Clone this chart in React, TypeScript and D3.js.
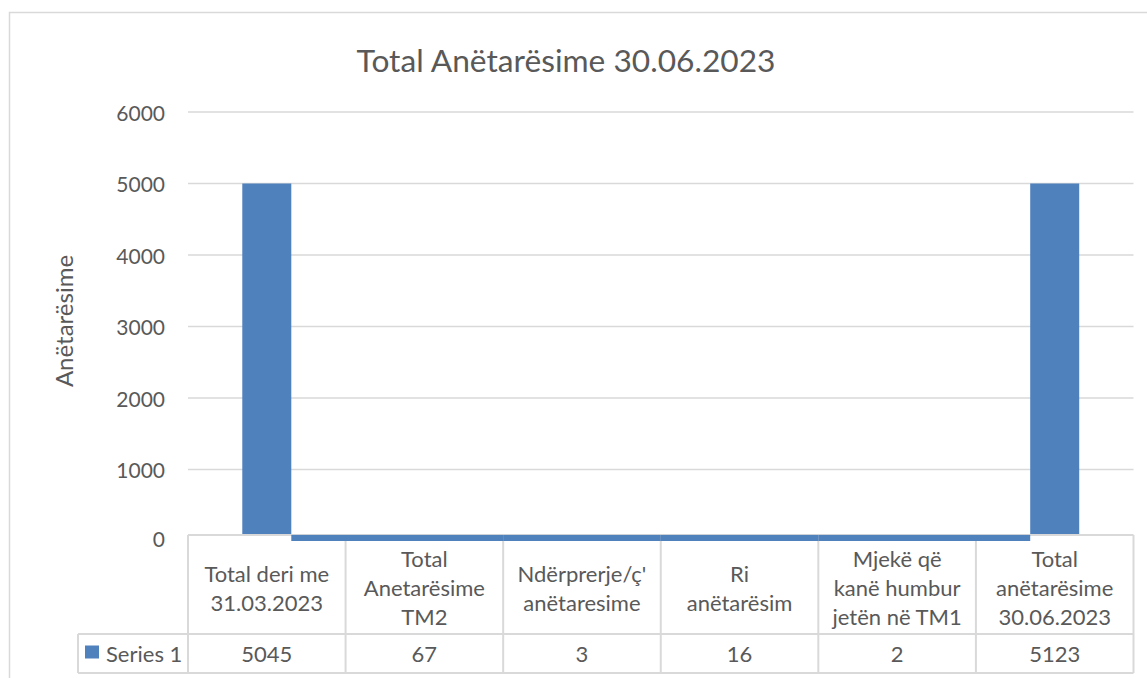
import React from "react";
import * as d3 from "d3";

const title = "Total Anëtarësime 30.06.2023";
const yAxisTitle = "Anëtarësime";
const seriesName = "Series 1";
const categoryLines: string[][] = [
  ["Total deri me", "31.03.2023"],
  ["Total", "Anetarësime", "TM2"],
  ["Ndërprerje/ç'", "anëtaresime"],
  ["Ri", "anëtarësim"],
  ["Mjekë që", "kanë humbur", "jetën në TM1"],
  ["Total", "anëtarësime", "30.06.2023"],
];
const categories = categoryLines.map((l) => l.join(" "));
// values shown in the data table
const tableValues = [5045, 67, 3, 16, 2, 5123];
// bar heights as they are drawn in the picture
const plottedValues = [5000, 85, 85, 85, 85, 5000];
const yTicks = [0, 1000, 2000, 3000, 4000, 5000, 6000];

const W = 1147;
const H = 678;
const FONT = "Lato, 'Open Sans', sans-serif";
const TEXT = "#595959";
const GRID = "#D9D9D9";
const BAR = "#4F81BD";

export default function App() {
  const plotLeft = 188;
  const plotRight = 1133.5;
  const y = d3.scaleLinear().domain([0, 6000]).range([541, 112]);
  const x = d3.scaleBand<string>().domain(categories).range([plotLeft, plotRight]).padding(0);
  const bw = x.bandwidth();
  const barW = bw * 0.311;
  const tableTop = 535;
  const headerBottom = 634;
  const rowBottom = 673;
  const legendLeft = 78;
  const n = categories.length;

  const barRect = (i: number) => {
    const c = x(categories[i])! + bw / 2;
    const isEdge = i === 0 || i === n - 1;
    if (isEdge) {
      return { x: c - barW / 2, y: y(plottedValues[i]), w: barW, h: tableTop - y(plottedValues[i]) };
    }
    let x0 = x(categories[i])!;
    let x1 = x0 + bw;
    if (i === 1) x0 = x(categories[0])! + bw / 2 + barW / 2;
    if (i === n - 2) x1 = x(categories[n - 1])! + bw / 2 - barW / 2;
    return { x: x0, y: y(plottedValues[i]), w: x1 - x0, h: y(0) - y(plottedValues[i]) };
  };

  return (
    <svg
      width={W}
      height={H}
      style={{ position: "absolute", left: 0, top: 0, background: "#fff" }}
      fontFamily={FONT}
    >
      <rect x={0} y={0} width={W} height={H} fill="#fff" />
      <rect x={9.5} y={12.5} width={W + 20} height={H + 20} fill="none" stroke={GRID} strokeWidth={1.5} />
      <text x={566} y={60} textAnchor="middle" dominantBaseline="central" fontSize={31.7} fill={TEXT}>
        {title}
      </text>
      {/* gridlines */}
      {yTicks.filter((t) => t > 0).map((t) => (
        <line key={t} x1={plotLeft} x2={plotRight} y1={y(t)} y2={y(t)} stroke={GRID} strokeWidth={1.5} />
      ))}
      {yTicks.map((t) => (
        <text key={"l" + t} x={165} y={t === 0 ? 538 : y(t)} textAnchor="end" dominantBaseline="central" fontSize={21} fill={TEXT}>
          {t}
        </text>
      ))}
      <text
        transform={`translate(63,321) rotate(-90)`}
        textAnchor="middle"
        dominantBaseline="central"
        fontSize={24}
        fill={TEXT}
      >
        {yAxisTitle}
      </text>
      {/* edge bars */}
      {[0, n - 1].map((i) => {
        const r = barRect(i);
        return <rect key={"b" + i} x={r.x} y={r.y} width={r.w} height={r.h} fill={BAR} />;
      })}
      {/* data table */}
      <g stroke={GRID} strokeWidth={2} fill="none">
        <line x1={plotLeft} x2={plotRight} y1={tableTop} y2={tableTop} />
        <line x1={legendLeft} x2={plotRight} y1={headerBottom} y2={headerBottom} />
        <line x1={legendLeft} x2={plotRight} y1={rowBottom} y2={rowBottom} />
        <line x1={legendLeft} x2={legendLeft} y1={headerBottom} y2={rowBottom} />
        {categories.map((c) => (
          <line key={"v" + c} x1={x(c)!} x2={x(c)!} y1={tableTop} y2={rowBottom} />
        ))}
        <line x1={plotRight} x2={plotRight} y1={tableTop} y2={rowBottom} />
      </g>
      {categoryLines.map((lines, i) => {
        const cx = x(categories[i])! + bw / 2;
        return lines.map((ln, j) => (
          <text
            key={"h" + i + j}
            x={cx}
            y={587.5 + (j - (lines.length - 1) / 2) * 29}
            textAnchor="middle"
            dominantBaseline="central"
            fontSize={22}
            fill={TEXT}
          >
            {ln}
          </text>
        ));
      })}
      {tableValues.map((v, i) => (
        <text
          key={"v" + i}
          x={x(categories[i])! + bw / 2}
          y={653}
          textAnchor="middle"
          dominantBaseline="central"
          fontSize={22}
          fill={TEXT}
        >
          {v}
        </text>
      ))}
      <rect x={85} y={645.5} width={14} height={13} fill={BAR} />
      <text x={106} y={653} dominantBaseline="central" fontSize={22} fill={TEXT}>
        {seriesName}
      </text>
      {/* middle bars */}
      {d3.range(1, n - 1).map((i) => {
        const r = barRect(i);
        return <rect key={"m" + i} x={r.x} y={r.y} width={r.w} height={r.h} fill={BAR} />;
      })}
    </svg>
  );
}
